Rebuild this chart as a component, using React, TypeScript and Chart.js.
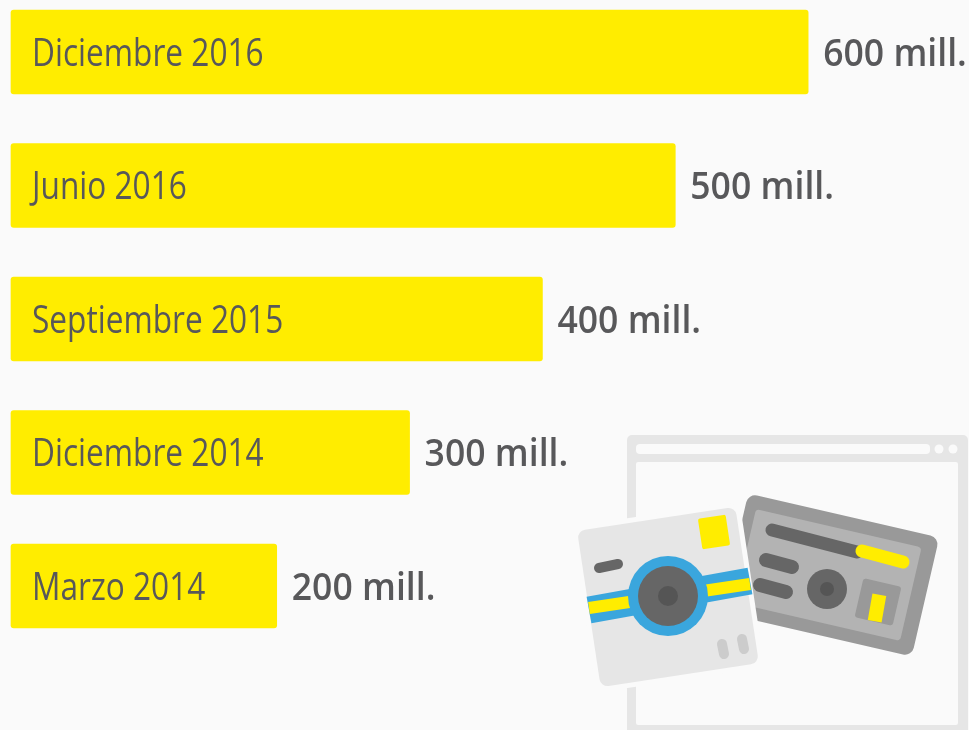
import React, { useEffect, useRef } from "react";
import { Chart, registerables } from "chart.js";

Chart.register(...registerables);

const categories = ["Diciembre 2016", "Junio 2016", "Septiembre 2015", "Diciembre 2014", "Marzo 2014"];
const values = [600, 500, 400, 300, 200];
const valueLabels = ["600 mill.", "500 mill.", "400 mill.", "300 mill.", "200 mill."];

const BG = "#fafafa";
const YELLOW = "#ffed00";
const TEXT = "#58585a";

function stretchedText(ctx: CanvasRenderingContext2D, text: string, x: number, y: number, sx: number) {
  ctx.save();
  ctx.translate(x, y);
  ctx.scale(sx, 1);
  ctx.fillText(text, 0, 0);
  ctx.restore();
}

function line(ctx: CanvasRenderingContext2D, x1: number, y1: number, x2: number, y2: number, w: number, c: string, cap: CanvasLineCap = "round") {
  ctx.beginPath();
  ctx.moveTo(x1, y1);
  ctx.lineTo(x2, y2);
  ctx.lineWidth = w;
  ctx.strokeStyle = c;
  ctx.lineCap = cap;
  ctx.stroke();
}

function circle(ctx: CanvasRenderingContext2D, x: number, y: number, r: number, c: string) {
  ctx.beginPath();
  ctx.arc(x, y, r, 0, Math.PI * 2);
  ctx.fillStyle = c;
  ctx.fill();
}

function rotRect(ctx: CanvasRenderingContext2D, cx: number, cy: number, w: number, h: number, deg: number, r: number, c: string, halo?: string) {
  ctx.save();
  ctx.translate(cx, cy);
  ctx.rotate((deg * Math.PI) / 180);
  ctx.beginPath();
  ctx.roundRect(-w / 2, -h / 2, w, h, r);
  if (halo) {
    ctx.lineWidth = 10;
    ctx.strokeStyle = halo;
    ctx.stroke();
  }
  ctx.fillStyle = c;
  ctx.fill();
  ctx.restore();
}

function illustration(ctx: CanvasRenderingContext2D) {
  ctx.save();
  // browser window
  ctx.fillStyle = "#e6e6e6";
  ctx.beginPath();
  ctx.roundRect(627, 435, 341, 305, 5);
  ctx.fill();
  ctx.fillStyle = BG;
  ctx.beginPath();
  ctx.roundRect(636, 444, 294, 10, 4);
  ctx.fill();
  ctx.beginPath();
  ctx.roundRect(636, 462, 322, 263, 2);
  ctx.fill();
  circle(ctx, 939, 449, 4.5, BG);
  circle(ctx, 953, 449, 4.5, BG);

  // card
  rotRect(ctx, 830, 575, 196, 122, 13, 9, "#999999");
  rotRect(ctx, 828, 575, 170, 96, 13, 4, "#b3b3b3");
  line(ctx, 772, 530, 857, 552, 13, "#666666");
  line(ctx, 862, 551, 903, 562, 13, YELLOW);
  line(ctx, 766, 560, 792, 567, 14, "#666666");
  line(ctx, 760, 585, 786, 592, 14, "#666666");
  circle(ctx, 827, 589, 20, "#666666");
  circle(ctx, 827, 589, 7, "#555555");
  rotRect(ctx, 878, 602, 39, 40, 13, 3, "#999999");
  rotRect(ctx, 877, 608, 14, 27, 10, 0, YELLOW);

  // camera
  rotRect(ctx, 668, 597, 160, 158, -8.6, 8, "#e6e6e6", BG);
  rotRect(ctx, 714, 532, 28, 31, -8.6, 2, YELLOW);
  line(ctx, 599, 568, 618, 564, 10, "#666666");
  line(ctx, 589, 610, 750, 581, 27, "#3aa6dd", "butt");
  line(ctx, 589, 608, 750, 584, 12, YELLOW, "butt");
  circle(ctx, 668, 596, 40, "#3aa6dd");
  circle(ctx, 668, 596, 30, "#666666");
  circle(ctx, 668, 596, 10, "#555555");
  line(ctx, 722, 644, 724, 654, 10, "#cccccc");
  line(ctx, 742, 639, 744, 649, 10, "#cccccc");
  ctx.restore();
}

const overlay = {
  id: "overlay",
  beforeDraw(chart: Chart) {
    const { ctx, width, height } = chart;
    ctx.save();
    ctx.fillStyle = BG;
    ctx.fillRect(0, 0, width, height);
    ctx.restore();
  },
  afterDatasetsDraw(chart: Chart) {
    const { ctx } = chart;
    const meta = chart.getDatasetMeta(0);
    ctx.save();
    ctx.textBaseline = "middle";
    ctx.textAlign = "left";
    ctx.fillStyle = TEXT;
    meta.data.forEach((bar: any, i: number) => {
      ctx.font = '38px "Open Sans"';
      stretchedText(ctx, categories[i], bar.base + 21, bar.y + 3, 0.832);
      ctx.font = '600 38px "Open Sans"';
      stretchedText(ctx, valueLabels[i], bar.x + 15, bar.y + 3, 0.936);
    });
    ctx.restore();
    illustration(ctx);
  },
};

export default function App() {
  const ref = useRef<HTMLCanvasElement>(null);
  useEffect(() => {
    document.body.style.margin = "0";
    document.body.style.background = BG;
    const chart = new Chart(ref.current!, {
      type: "bar",
      data: {
        labels: categories,
        datasets: [
          {
            data: values,
            backgroundColor: YELLOW,
            borderRadius: 3,
            borderSkipped: false,
            barThickness: 84,
            clip: false,
          },
        ],
      },
      options: {
        indexAxis: "y",
        animation: false,
        responsive: false,
        layout: { padding: { left: 11, right: 28, top: 52, bottom: 144 } },
        plugins: { legend: { display: false }, tooltip: { enabled: false } },
        scales: {
          x: { display: false, min: 0, max: 700 },
          y: { display: false, offset: false },
        },
      },
      plugins: [overlay],
    } as any);
    return () => chart.destroy();
  }, []);
  return <canvas ref={ref} width={969} height={730} style={{ display: "block", filter: "blur(0.5px)" }} />;
}
